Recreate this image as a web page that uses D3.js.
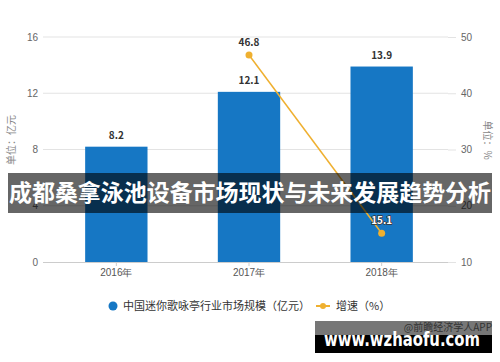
<!DOCTYPE html>
<html lang="zh">
<head>
<meta charset="utf-8">
<style>
  body { margin: 0; background: #fff; }
  svg { display: block; font-family: "Noto Sans CJK SC", "Noto Sans", sans-serif; }
</style>
</head>
<body>
<div id="chart"></div>
<script src="https://d3js.org/d3.v7.min.js"></script>
<script>
// data
var years = ["2016年", "2017年", "2018年"];
var marketSize = [8.2, 12.1, 13.9];      // 亿元
var growth = [null, 46.8, 15.1];          // %
var leftTicks = [0, 4, 8, 12, 16];
var rightTicks = [10, 20, 30, 40, 50];

var width = 500, height = 362;
var barColor = "#1677c4", lineColor = "#efb030";

var svg = d3.select("#chart").append("svg")
    .attr("width", width).attr("height", height);

var x = d3.scaleBand().domain(years).range([50, 448]).paddingInner(0.53).paddingOuter(0.265);
var yL = d3.scaleLinear().domain([0, 16]).range([262, 37]);
var yR = d3.scaleLinear().domain([10, 50]).range([262, 37]);

// grid
svg.append("g").selectAll("line").data(leftTicks.slice(1)).join("line")
    .attr("x1", 43).attr("x2", 448)
    .attr("y1", function (d) { return yL(d); }).attr("y2", function (d) { return yL(d); })
    .attr("stroke", "#e3e3e3");

// left axis
var gl = svg.append("g").attr("transform", "translate(43,0)")
    .call(d3.axisLeft(yL).tickValues(leftTicks).tickSize(0).tickPadding(5));
gl.select(".domain").remove();
gl.selectAll("text").attr("fill", "#666").style("font-size", "10px");

// right axis
var gr = svg.append("g").attr("transform", "translate(448,0)")
    .call(d3.axisRight(yR).tickValues(rightTicks).tickSize(8).tickPadding(5));
gr.select(".domain").remove();
gr.selectAll("line").attr("stroke", "#e3e3e3");
gr.selectAll("text").attr("fill", "#666").style("font-size", "10px");

// bars
svg.append("g").selectAll("rect").data(marketSize).join("rect")
    .attr("x", function (d, i) { return x(years[i]); })
    .attr("width", x.bandwidth())
    .attr("y", function (d) { return yL(d); })
    .attr("height", function (d) { return yL(0) - yL(d); })
    .attr("fill", barColor);

svg.append("g").selectAll("text").data(marketSize).join("text")
    .attr("x", function (d, i) { return x(years[i]) + x.bandwidth() / 2; })
    .attr("y", function (d) { return yL(d) - 8; })
    .attr("text-anchor", "middle")
    .attr("fill", "#333").style("font-size", "10px").style("font-weight", "bold")
    .text(function (d) { return d.toFixed(1); });

// x axis
var gx = svg.append("g").attr("transform", "translate(0,262)")
    .call(d3.axisBottom(x).tickSize(4).tickPadding(3).tickSizeOuter(0));
gx.select(".domain").attr("stroke", "#ccc").attr("d", "M43,0.5H448");
gx.selectAll("line").attr("stroke", "#ccc");
gx.selectAll("text").attr("fill", "#555").style("font-size", "10px");

// growth line
var pts = growth.map(function (d, i) { return { v: d, k: years[i] }; })
    .filter(function (d) { return d.v !== null; });
var line = d3.line()
    .x(function (d) { return x(d.k) + x.bandwidth() / 2; })
    .y(function (d) { return yR(d.v); });
svg.append("path").datum(pts).attr("d", line)
    .attr("fill", "none").attr("stroke", lineColor).attr("stroke-width", 1.5);
svg.append("g").selectAll("circle").data(pts).join("circle")
    .attr("cx", function (d) { return x(d.k) + x.bandwidth() / 2; })
    .attr("cy", function (d) { return yR(d.v); })
    .attr("r", 3.5).attr("fill", lineColor);
svg.append("g").selectAll("text").data(pts).join("text")
    .attr("x", function (d) { return x(d.k) + x.bandwidth() / 2; })
    .attr("y", function (d) { return yR(d.v) - 9; })
    .attr("text-anchor", "middle")
    .style("font-size", "10px").style("font-weight", "bold")
    .attr("fill", function (d, i) { return i === 0 ? "#333" : "#fff"; })
    .attr("stroke", function (d, i) { return i === 0 ? "none" : "#333"; })
    .attr("stroke-width", 1.5).style("paint-order", "stroke")
    .text(function (d) { return d.v.toFixed(1); });

// unit labels
svg.append("text").attr("transform", "translate(15,140) rotate(-90)")
    .attr("text-anchor", "middle").attr("fill", "#888").style("font-size", "10px")
    .text("单位：亿元");
svg.append("text").attr("transform", "translate(484,140) rotate(90)")
    .attr("text-anchor", "middle").attr("fill", "#888").style("font-size", "10px")
    .text("单位：%");

// legend
var lg = svg.append("g").attr("transform", "translate(0,306)");
lg.append("circle").attr("cx", 113).attr("cy", 0).attr("r", 4.5).attr("fill", barColor);
lg.append("text").attr("x", 123).attr("y", 4).attr("fill", "#333").style("font-size", "11px")
    .text("中国迷你歌咏亭行业市场规模（亿元）");
lg.append("line").attr("x1", 316).attr("x2", 330).attr("y1", 0).attr("y2", 0)
    .attr("stroke", lineColor).attr("stroke-width", 2);
lg.append("circle").attr("cx", 323).attr("cy", 0).attr("r", 3).attr("fill", lineColor);
lg.append("text").attr("x", 336).attr("y", 4).attr("fill", "#333").style("font-size", "11px")
    .text("增速（%）");

// title banner overlay
svg.append("rect").attr("x", 8).attr("y", 173).attr("width", 484).attr("height", 40)
    .attr("fill", "rgba(0,0,0,0.6)");
svg.append("text").attr("x", 250).attr("y", 201).attr("text-anchor", "middle")
    .attr("fill", "#fff").style("font-size", "23px").style("font-weight", "bold")
    .attr("textLength", 482).attr("lengthAdjust", "spacingAndGlyphs")
    .text("成都桑拿泳池设备市场现状与未来发展趋势分析");

// bottom watermark
svg.append("rect").attr("x", 315).attr("y", 321).attr("width", 177).attr("height", 14).attr("fill", "#777");
svg.append("rect").attr("x", 315).attr("y", 335).attr("width", 177).attr("height", 18).attr("fill", "#000");
svg.append("text").attr("x", 492).attr("y", 331).attr("text-anchor", "end")
    .attr("fill", "#333").style("font-size", "10px").text("@前瞻经济学人APP");
svg.append("text").attr("x", 324).attr("y", 346)
    .attr("fill", "#fff").style("font-size", "20px").style("font-weight", "bold")
    .style("font-family", "'DejaVu Sans', sans-serif")
    .attr("textLength", 156).attr("lengthAdjust", "spacingAndGlyphs")
    .text("www.wzhaofu.com");
</script>
</body>
</html>
